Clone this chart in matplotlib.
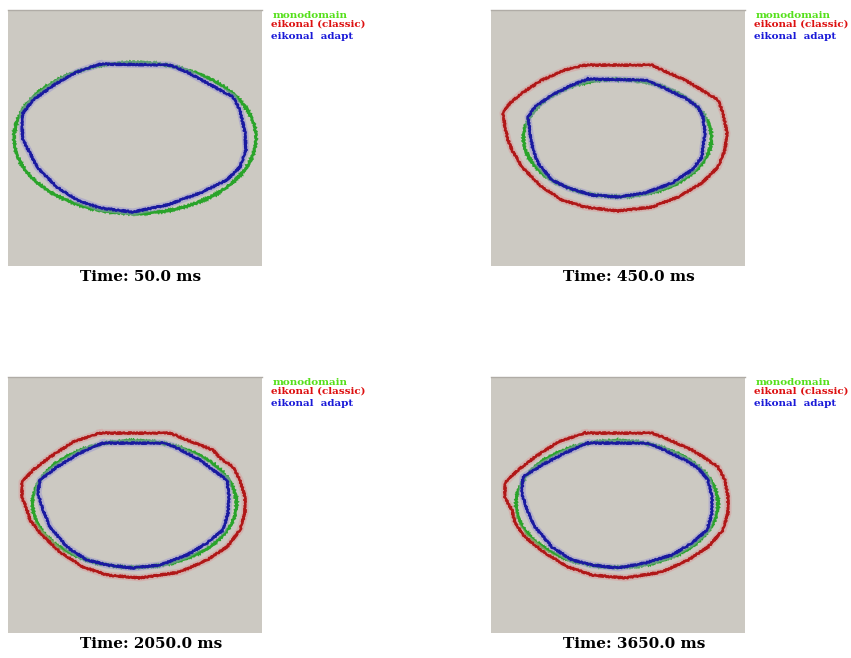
import numpy as np
import matplotlib.pyplot as plt
from matplotlib.patches import Ellipse

# mesh domain: 254 x 256 cells, y measured downward from top edge
times = [50.0, 450.0, 2050.0, 3650.0]

# monodomain front: (cx, cy, rx, ry)
mono = [(127, 128, 121, 75.5),
        (126.5, 128, 94, 58.7),
        (126.5, 127, 102, 63.3),
        (126, 127, 101, 63.3)]

# eikonal adapt front
adapt_x = [
    [92, 162, 179, 212, 225, 232, 237, 238, 232, 219, 192, 159, 125, 92, 69, 49, 29, 22, 15, 14, 15, 25, 49, 69],
    [97, 154, 167, 194, 207, 212, 214, 212, 211, 201, 181, 154, 127, 101, 77, 61, 47, 42, 39, 37, 44, 61, 81],
    [95, 155, 165, 192, 205, 219, 221, 220, 215, 199, 179, 152, 125, 99, 79, 59, 42, 35, 30, 32, 49, 72],
    [97, 154, 167, 194, 207, 217, 221, 221, 216, 201, 181, 154, 127, 101, 81, 61, 44, 36, 31, 32, 51, 74],
]
adapt_y = [
    [54, 55, 62, 80, 87, 100, 123, 140, 157, 170, 183, 195, 202, 198, 190, 177, 157, 143, 130, 117, 103, 90, 73, 62],
    [69, 70, 75, 88, 97, 107, 123, 137, 147, 160, 173, 183, 187, 185, 178, 170, 153, 140, 123, 107, 97, 85, 75],
    [66, 66, 69, 83, 93, 103, 120, 136, 153, 166, 178, 188, 191, 188, 183, 170, 150, 133, 116, 103, 90, 76],
    [66, 66, 70, 83, 91, 103, 120, 136, 153, 166, 178, 186, 191, 188, 183, 170, 150, 133, 116, 100, 88, 76],
]

# eikonal classic front (not shown at 50 ms)
classic_x = [
    [],
    [94, 161, 171, 194, 214, 227, 232, 236, 234, 227, 211, 187, 161, 127, 94, 71, 51, 31, 21, 17, 14, 12, 19, 31, 51, 74],
    [92, 162, 179, 205, 212, 225, 232, 237, 237, 232, 219, 199, 172, 132, 99, 75, 52, 32, 22, 19, 14, 14, 25, 42, 65],
    [94, 161, 174, 201, 214, 227, 234, 237, 237, 232, 217, 197, 171, 134, 101, 77, 54, 34, 24, 21, 14, 14, 27, 44, 67],
]
classic_y = [
    [],
    [55, 55, 60, 70, 82, 90, 103, 123, 140, 157, 173, 187, 197, 201, 197, 190, 177, 157, 140, 130, 117, 103, 93, 83, 70, 60],
    [56, 56, 63, 73, 81, 90, 103, 120, 136, 153, 170, 183, 195, 201, 198, 190, 175, 156, 143, 133, 120, 105, 93, 80, 65],
    [56, 56, 61, 73, 81, 90, 103, 120, 136, 153, 170, 183, 195, 201, 198, 190, 176, 160, 146, 133, 121, 106, 93, 80, 65],
]

labels = ["monodomain", "eikonal (classic)", "eikonal  adapt"]
label_colors = ["#55e01a", "#dd1111", "#1a1ad8"]

W, H = 851, 658
box_left = [8, 491, 8, 491]
box_top = [10, 10, 377, 377]
bw, bh = 254, 256

fig = plt.figure(figsize=(W / 100, H / 100), dpi=100)
fig.patch.set_facecolor("white")

for i in range(4):
    ax = fig.add_axes([box_left[i] / W, 1 - (box_top[i] + bh) / H, bw / W, bh / H])
    ax.set_facecolor("#ccc9c2")
    ax.set_xlim(0, 254)
    ax.set_ylim(256, 0)
    ax.set_xticks([])
    ax.set_yticks([])
    for s in ax.spines.values():
        s.set_visible(False)
    ax.spines["top"].set_visible(True)
    ax.spines["top"].set_color("#b0aca6")
    ax.spines["top"].set_linewidth(1)

    cx, cy, rx, ry = mono[i]
    e = Ellipse((cx, cy), 2 * rx, 2 * ry, fill=False, ec="#2aa42a", lw=2.0)
    e.set_sketch_params(0.8, 3, 2)
    ax.add_patch(e)

    if classic_x[i]:
        xs = classic_x[i] + classic_x[i][:1]
        ys = classic_y[i] + classic_y[i][:1]
        ax.plot(xs, ys, color="#d89a9a", lw=5, alpha=0.5, solid_joinstyle="round")
        ln, = ax.plot(xs, ys, color="#b01818", lw=1.8)
        ln.set_sketch_params(0.8, 3, 2)

    xs = adapt_x[i] + adapt_x[i][:1]
    ys = adapt_y[i] + adapt_y[i][:1]
    ax.plot(xs, ys, color="#9a94d0", lw=5, alpha=0.5, solid_joinstyle="round")
    ln, = ax.plot(xs, ys, color="#1a1aa0", lw=1.8)
    ln.set_sketch_params(0.8, 3, 2)

    fig.text((box_left[i] + 72) / W, 1 - (box_top[i] + 260) / H, f"Time: {times[i]} ms",
             family="DejaVu Serif", weight="bold", fontsize=11, ha="left", va="top")

    lx = box_left[i] + bw + 9
    ly = [box_top[i] + 1, box_top[i] + 10, box_top[i] + 22]
    for k in range(3):
        fig.text((lx + (2 if k == 0 else 0)) / W, 1 - ly[k] / H, labels[k], color=label_colors[k],
                 family="DejaVu Serif", weight="bold", fontsize=7.5, ha="left", va="top")

fig.savefig("out.png", dpi=100)
